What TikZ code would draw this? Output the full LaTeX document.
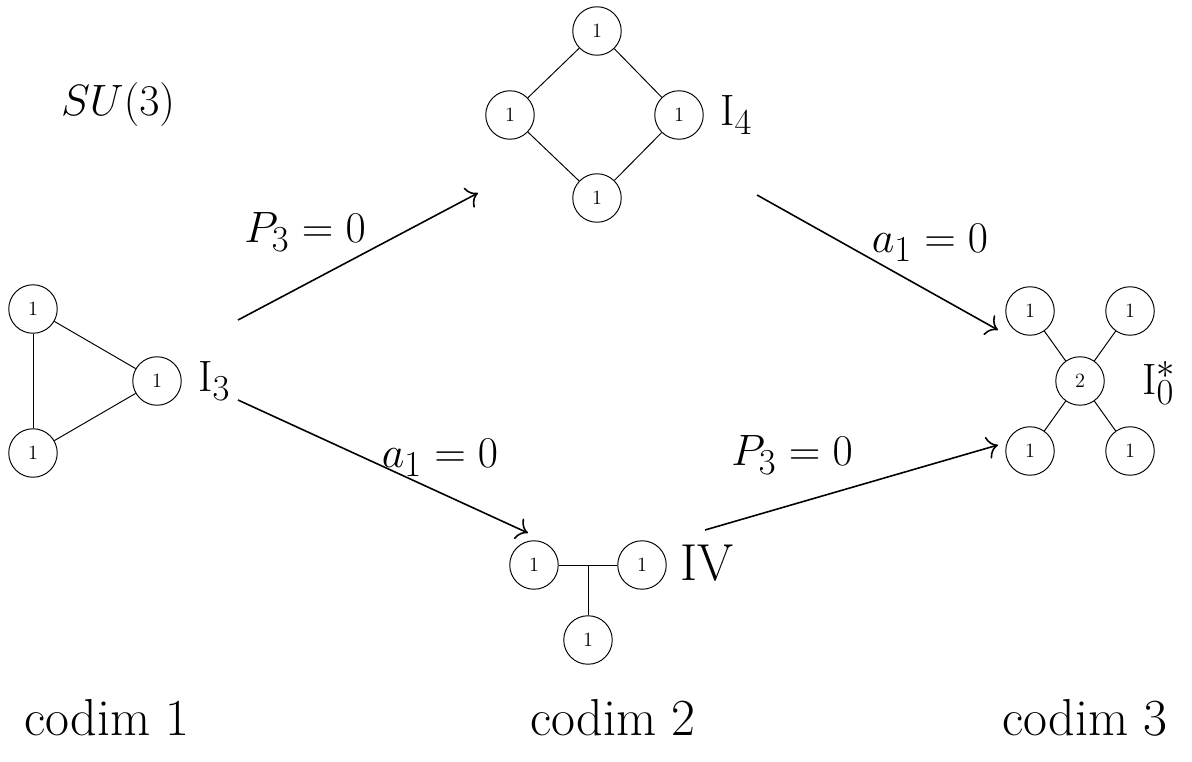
\documentclass[tikz,border=0pt]{standalone}
\usetikzlibrary{arrows.meta}
\begin{document}
\begin{tikzpicture}[x=0.567pt,y=-0.567pt,
  dot/.style={circle,draw,line width=0.55pt,minimum size=27.5pt,inner sep=0pt,font=\fontsize{11.5}{13}\selectfont},
  edge/.style={line width=0.55pt},
  arr/.style={line width=0.9pt,-{To[scale=1.7]}},
  big/.style={font=\fontsize{29.5}{35}\selectfont}]
\useasboundingbox (0,0) rectangle (1192,762);
% I3
\node[dot] (t1) at (33,309) {1};
\node[dot] (t2) at (157,381) {1};
\node[dot] (t3) at (33,453) {1};
\draw[edge] (t1) -- (t3);
\draw[edge] (t1) -- (t2);
\draw[edge] (t3) -- (t2);
\node[big,anchor=west] (lI3) at (192,381) {$\mathrm{I}_3$};
% I4
\node[dot] (d1) at (597,31) {1};
\node[dot] (d2) at (510,115) {1};
\node[dot] (d3) at (679,115) {1};
\node[dot] (d4) at (597,198) {1};
\draw[edge] (d1) -- (d2);
\draw[edge] (d1) -- (d3);
\draw[edge] (d2) -- (d4);
\draw[edge] (d3) -- (d4);
\node[big,anchor=west] (lI4) at (714,115) {$\mathrm{I}_4$};
% IV
\node[dot] (v1) at (534,565) {1};
\node[dot] (v2) at (642,565) {1};
\node[dot] (v3) at (588,640) {1};
\coordinate (vj) at (588,565);
\draw[edge] (v1) -- (v2);
\draw[edge] (vj) -- (v3);
\node[big,anchor=west] (lIV) at (674,563) {IV};
% I0*
\node[dot] (c0) at (1080,381) {2};
\node[dot] (c1) at (1030,311) {1};
\node[dot] (c2) at (1130,311) {1};
\node[dot] (c3) at (1030,451) {1};
\node[dot] (c4) at (1130,451) {1};
\draw[edge] (c0) -- (c1);
\draw[edge] (c0) -- (c2);
\draw[edge] (c0) -- (c3);
\draw[edge] (c0) -- (c4);
\node[big,anchor=west] (lI0) at (1136,383) {$\mathrm{I}_0^*$};
% title
\node[big] (su) at (118,105) {$SU(3)$};
% arrows
\coordinate (a1s) at (238,320); \coordinate (a1e) at (478,193);
\coordinate (a2s) at (238,400); \coordinate (a2e) at (528,533);
\coordinate (a3s) at (757,195); \coordinate (a3e) at (998,330);
\coordinate (a4s) at (705,530); \coordinate (a4e) at (998,445);
\draw[arr] (a1s) -- (a1e);
\draw[arr] (a2s) -- (a2e);
\draw[arr] (a3s) -- (a3e);
\draw[arr] (a4s) -- (a4e);
\node[big] (l1) at (305,232) {$P_3 = 0$};
\node[big] (l2) at (440,458) {$a_1 = 0$};
\node[big] (l3) at (930,243) {$a_1 = 0$};
\node[big] (l4) at (792,455) {$P_3 = 0$};
% codims
\node[big] (k1) at (107,718) {codim 1};
\node[big] (k2) at (613,718) {codim 2};
\node[big] (k3) at (1085,718) {codim 3};
\end{tikzpicture}
\end{document}
